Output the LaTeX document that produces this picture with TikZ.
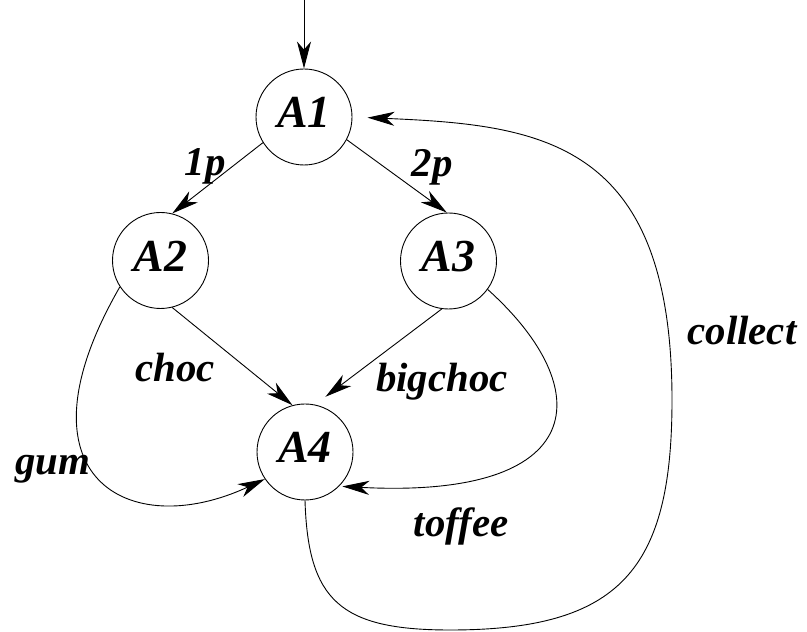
\documentclass[tikz,border=0pt]{standalone}
\usepackage{fontspec}
\setmainfont{Liberation Serif}
\usetikzlibrary{arrows.meta}

\begin{document}
\begin{tikzpicture}[x=1bp,y=1bp,line width=0.9bp,
  >={Stealth[length=27bp,width=14bp,inset=8bp]},
  state/.style={draw,circle,minimum size=96bp,inner sep=0pt,text depth=9bp,
    font=\fontsize{46}{46}\selectfont\bfseries\itshape},
  lab/.style={anchor=base,font=\fontsize{41}{41}\selectfont\bfseries\itshape}]
  \useasboundingbox (0,0) rectangle (807,632);
  % states
  \node[state] (A1) at (304,515) {A1};
  \node[state] (A2) at (160.5,371.5) {A2};
  \node[state] (A3) at (448.5,371) {A3};
  \node[state] (A4) at (305,180) {A4};
  \coordinate (in) at (304,632);
  \coordinate (low) at (450,2);
  \coordinate (bend) at (672,232);
  % transitions
  \draw[->] (in) -- (A1);
  \draw[->] (A1.212) -- (A2.76);
  \draw[->] (A1.-28) -- (A3.92);
  \draw[->] (A2.-76) -- (A4.105);
  \draw[->,shorten >=13bp] (A3.262) -- (A4.78);
  \draw[->] (A2.213) .. controls +(240:220) and +(205:150) .. (A4.214);
  \draw[->,shorten >=3bp] (A3.-36) .. controls +(-42:150) and +(-3:250) .. (A4.-45);
  \draw[->,shorten >=15bp] (A4.south) .. controls +(3,-100) and +(-110,0) .. (low)
    .. controls +(170,0) and +(0,-170) .. (bend)
    .. controls +(0,260) and +(188,-8) .. (A1.east);
  % labels
  \node[lab] (l1p) at (205,456) {1p};
  \node[lab] (l2p) at (432,455) {2p};
  \node[lab] (lchoc) at (175,250) {choc};
  \node[lab] (lbig) at (442,240) {bigchoc};
  \node[lab] (lgum) at (53,157) {gum};
  \node[lab] (ltof) at (461,95) {toffee};
  \node[lab] (lcol) at (742,287) {collect};
\end{tikzpicture}
\end{document}
